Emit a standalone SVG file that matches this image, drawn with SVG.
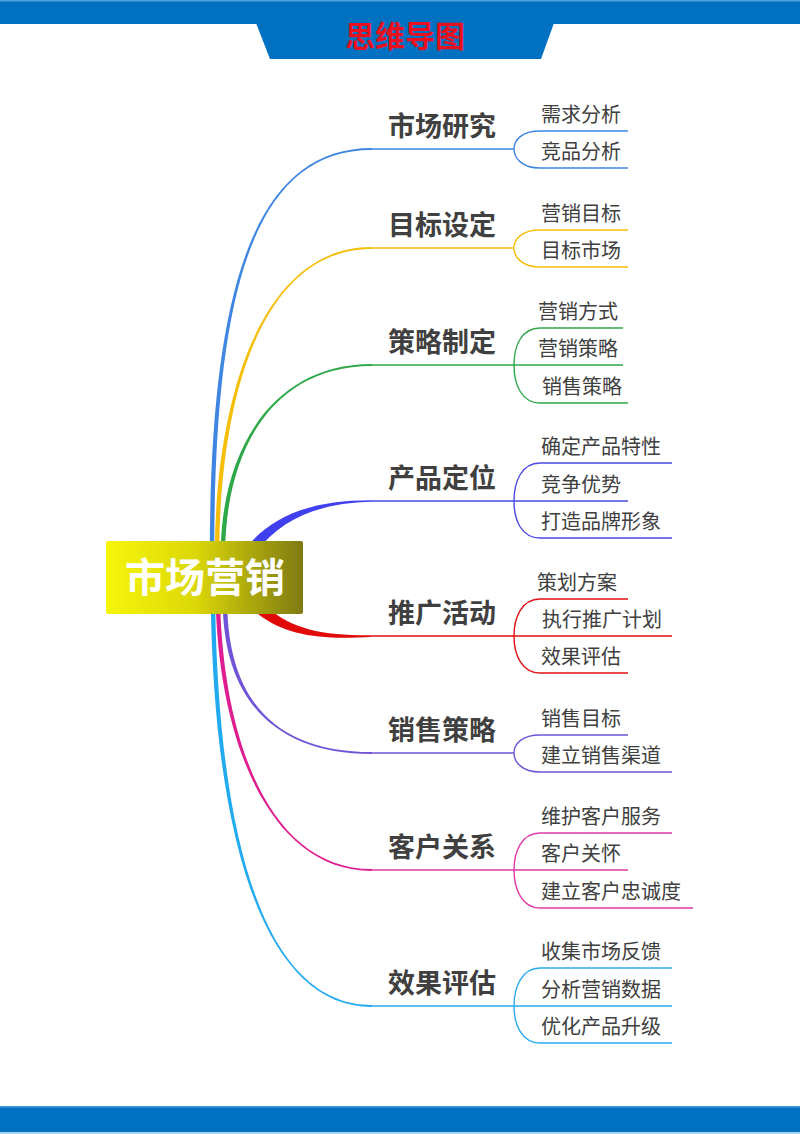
<svg xmlns="http://www.w3.org/2000/svg" width="800" height="1134" viewBox="0 0 800 1134">
<defs>
<linearGradient id="cg" x1="0" y1="0" x2="1" y2="0">
<stop offset="0" stop-color="#F6F60C"/>
<stop offset="0.45" stop-color="#DCD808"/>
<stop offset="1" stop-color="#7E7A12"/>
</linearGradient>
<style>
.t{font-family:"Noto Sans CJK SC","Noto Sans",sans-serif;fill:#404040}
.m{font-size:27px;font-weight:bold}
.c{font-size:20px}
.ln{fill:none;stroke-width:1.4}
</style>
</defs>
<rect width="800" height="1134" fill="#FFFFFF"/>
<g id="header">
<rect x="0" y="0" width="800" height="24" fill="#0070C0"/>
<rect x="0" y="0" width="800" height="1.5" fill="#4FA0DA"/>
<polygon points="256,23 554,23 541,59 270,59" fill="#0070C0"/>
<text x="405" y="47" text-anchor="middle" style="font-family:'Noto Sans CJK SC',sans-serif;font-size:30px;font-weight:bold;fill:#E8101E">思维导图</text>
</g>
<g id="footer">
<rect x="0" y="1106" width="800" height="28" fill="#0070C0"/>
<rect x="0" y="1106" width="800" height="1.5" fill="#4A9CD6"/>
<rect x="0" y="1132" width="800" height="2" fill="#A8D4F2"/>
</g>
<g id="connectors">
<path fill="#3F86E2" d="M209.8,548 C210.8,300 250,148.1 372,148.1 L372,149.9 C250,149.9 215.2,300 214.2,548 Z"/>
<path fill="#F5BE0A" d="M214.8,548 C216.8,390 264,247.1 372,247.1 L372,248.9 C264,248.9 221.2,390 219.2,548 Z"/>
<path fill="#2EA848" d="M220.8,548 C222.8,450 272,364.1 372,364.1 L372,365.9 C272,365.9 227.2,450 225.2,548 Z"/>
<path fill="#4040EE" d="M246,548 C275,512 318,500 372,500.2 L372,501.8 C320,503 282,518 256,552 Z"/>
<path fill="#E00A0A" d="M266,606 C292,630 324,635.5 372,635.2 L372,636.8 C322,640 286,636 258,614 Z"/>
<path fill="#7053D6" d="M222.8,606 C224.8,702 277,753.9 372,753.9 L372,752.1 C277,752.1 229.2,702 227.2,606 Z"/>
<path fill="#DE1E90" d="M215.8,606 C219.8,740 269,870.9 372,870.9 L372,869.1 C269,869.1 224.2,740 220.2,606 Z"/>
<path fill="#22AAEE" d="M210.8,606 C214.8,840 264,1006.9 372,1006.9 L372,1005.1 C264,1005.1 219.2,840 215.2,606 Z"/>
<g class="ln" stroke="#3F86E2">
<path d="M372,149 H514"/>
<path d="M628,131 H540 C522,131 514,140 514,149 C514,158 522,168 540,168 H628"/>
</g>
<g class="ln" stroke="#F5BE0A">
<path d="M372,248 H514"/>
<path d="M628,230 H540 C522,230 514,239 514,248 C514,257 522,267 540,267 H628"/>
</g>
<g class="ln" stroke="#2EA848">
<path d="M372,365 H623"/>
<path d="M623,328 H540 C522,328 514,345 514,365 C514,385 522,403 540,403 H628"/>
</g>
<g class="ln" stroke="#4A4AE6">
<path d="M372,501 H628"/>
<path d="M672,463 H540 C522,463 514,481 514,501 C514,521 522,538 540,538 H672"/>
</g>
<g class="ln" stroke="#E01010">
<path d="M372,636 H672"/>
<path d="M628,599 H540 C522,599 514,617 514,636 C514,655 522,673 540,673 H628"/>
</g>
<g class="ln" stroke="#7053D6">
<path d="M372,753 H514"/>
<path d="M628,735 H540 C522,735 514,744 514,753 C514,762 522,772 540,772 H672"/>
</g>
<g class="ln" stroke="#DE3AA8">
<path d="M372,870 H628"/>
<path d="M672,833 H540 C522,833 514,851 514,870 C514,889 522,908 540,908 H693"/>
</g>
<g class="ln" stroke="#2AAAEE">
<path d="M372,1006 H672"/>
<path d="M672,968 H540 C522,968 514,987 514,1006 C514,1025 522,1043 540,1043 H672"/>
</g>
</g>
<g id="center">
<rect x="106" y="541" width="197" height="73" rx="2" fill="url(#cg)"/>
<text x="205" y="592" text-anchor="middle" style="font-family:'Noto Sans CJK SC',sans-serif;font-size:40px;font-weight:bold;fill:#FFFFFF">市场营销</text>
</g>
<g id="b1"><text class="t m" x="388" y="136">市场研究</text></g>
<g id="b1c1"><text class="t c" x="541" y="122">需求分析</text></g>
<g id="b1c2"><text class="t c" x="541" y="159">竞品分析</text></g>
<g id="b2"><text class="t m" x="388" y="235">目标设定</text></g>
<g id="b2c1"><text class="t c" x="541" y="221">营销目标</text></g>
<g id="b2c2"><text class="t c" x="541" y="258">目标市场</text></g>
<g id="b3"><text class="t m" x="388" y="352">策略制定</text></g>
<g id="b3c1"><text class="t c" x="538" y="319">营销方式</text></g>
<g id="b3c2"><text class="t c" x="538" y="356">营销策略</text></g>
<g id="b3c3"><text class="t c" x="542" y="394">销售策略</text></g>
<g id="b4"><text class="t m" x="388" y="488">产品定位</text></g>
<g id="b4c1"><text class="t c" x="541" y="454">确定产品特性</text></g>
<g id="b4c2"><text class="t c" x="541" y="492">竞争优势</text></g>
<g id="b4c3"><text class="t c" x="541" y="529">打造品牌形象</text></g>
<g id="b5"><text class="t m" x="388" y="623">推广活动</text></g>
<g id="b5c1"><text class="t c" x="537" y="590">策划方案</text></g>
<g id="b5c2"><text class="t c" x="542" y="627">执行推广计划</text></g>
<g id="b5c3"><text class="t c" x="541" y="664">效果评估</text></g>
<g id="b6"><text class="t m" x="388" y="740">销售策略</text></g>
<g id="b6c1"><text class="t c" x="541" y="726">销售目标</text></g>
<g id="b6c2"><text class="t c" x="541" y="763">建立销售渠道</text></g>
<g id="b7"><text class="t m" x="388" y="857">客户关系</text></g>
<g id="b7c1"><text class="t c" x="541" y="824">维护客户服务</text></g>
<g id="b7c2"><text class="t c" x="541" y="861">客户关怀</text></g>
<g id="b7c3"><text class="t c" x="541" y="899">建立客户忠诚度</text></g>
<g id="b8"><text class="t m" x="388" y="993">效果评估</text></g>
<g id="b8c1"><text class="t c" x="541" y="959">收集市场反馈</text></g>
<g id="b8c2"><text class="t c" x="541" y="997">分析营销数据</text></g>
<g id="b8c3"><text class="t c" x="541" y="1034">优化产品升级</text></g>
</svg>
